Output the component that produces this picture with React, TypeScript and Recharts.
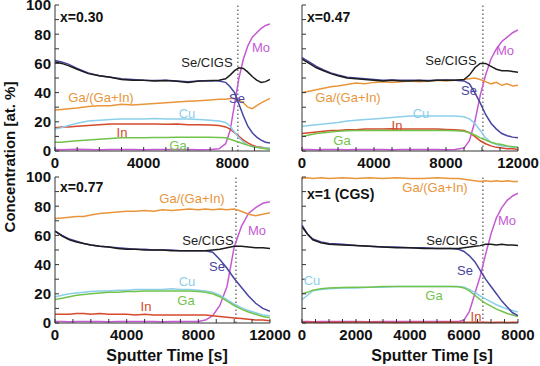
import React from 'react';
import { LineChart, Line, XAxis, YAxis, ReferenceLine } from 'recharts';

// x = 0.30 (sputter time in s, concentrations in at. %)
const t030 = [0, 300, 600, 1000, 1500, 2000, 2500, 3000, 3500, 4000, 4500, 5000, 5500, 6000, 6500, 7000, 7400, 7700, 7900, 8100, 8300, 8500, 8700, 8900, 9100, 9300, 9500, 9700];
const seCigs030 = [61, 60, 58.5, 56, 53, 51.5, 50.5, 49, 48.5, 48.5, 48, 48.3, 47.8, 47, 48, 48.2, 48.5, 49.5, 52, 55, 57, 56.5, 54, 51, 48.5, 47, 47.5, 49];
const se030 = [62, 61, 59.5, 56.5, 53.5, 51.5, 50.5, 49.5, 49, 48.5, 48.3, 48.5, 48, 47.5, 48, 48.3, 48, 47, 44, 40, 32, 24, 17, 12.5, 9.5, 7.5, 6, 5.5];
const ratio030 = [28, 28.5, 29, 29.5, 30.5, 31, 31, 32, 31.5, 32, 32.5, 33, 33.5, 34, 34.5, 35, 35.5, 35.5, 36, 36, 35, 33, 30, 29, 31, 33, 34.5, 36];
const cu030 = [15, 16, 17.5, 19, 20.5, 21, 21.5, 22, 22, 22, 22.2, 22, 22, 22, 21.5, 21, 20.5, 19.5, 17, 13, 9, 6, 4, 3, 2.5, 2, 2, 2];
const in030 = [16, 16.5, 16.5, 17, 17.5, 18, 18.5, 18.5, 18.5, 18.5, 18.5, 18.3, 18.5, 18, 18, 17.8, 17.5, 16.5, 15, 12.5, 10, 7.5, 5.5, 4, 3, 2.5, 2, 1.5];
const ga030 = [6, 6, 6.5, 7, 7.5, 8, 8.5, 9, 9, 9, 9.2, 9.3, 9.5, 9.5, 9.5, 9.5, 9.3, 9, 8, 7, 6, 5, 4, 3, 2.5, 2, 1.5, 1];
const mo030 = [1, 0.8, 1, 1.2, 1, 0.9, 1, 1.1, 1, 0.9, 1, 1, 1.1, 1, 0.9, 1, 1.5, 5, 14, 32, 50, 63, 72, 78, 81, 84, 86, 87];

// x = 0.47
const t047 = [0, 400, 800, 1200, 1600, 2000, 2500, 3000, 3500, 4000, 4500, 5000, 5500, 6000, 6500, 7000, 7500, 8000, 8500, 9000, 9300, 9600, 9900, 10200, 10500, 10800, 11100, 11400, 11700, 12000];
const seCigs047 = [63, 60, 57, 55, 53, 51.5, 50, 49.5, 49, 48.5, 48, 48.5, 48, 48, 48.3, 48, 48.5, 48.5, 48.5, 49, 52, 57, 60, 60, 58, 56, 55, 55, 54.5, 54];
const se047 = [64, 61, 58, 55.5, 53.5, 52, 50.5, 50, 49.5, 49, 48.5, 48.7, 48.5, 48.5, 48.5, 48.3, 48.5, 48.7, 48.5, 48, 46, 40, 33, 25, 19, 15, 12, 10.5, 9.5, 9];
const ratio047 = [40, 41, 42, 43, 44, 44.5, 45.5, 46.5, 46, 47, 47.5, 47, 47.5, 48, 47.5, 48, 48.5, 48, 48.5, 49, 49.5, 50, 49, 47.5, 46, 47, 45, 46, 44.5, 45];
const cu047 = [17, 17.5, 18, 18.5, 19, 19.5, 20.5, 21, 21.5, 22, 22.5, 23, 23.5, 24, 24, 24, 24, 24, 24, 23.5, 22, 19, 14, 9, 6, 4.5, 3.5, 3, 2.5, 2.5];
const in047 = [12, 12.5, 13, 13.5, 14, 14, 14.5, 14.5, 15, 15, 15, 15.2, 15, 15, 15, 15, 15, 14.8, 14.5, 14, 12.5, 10, 7, 5, 3.5, 2.5, 2, 1.5, 1.5, 1];
const ga047 = [10, 11, 12, 12.5, 13, 13.5, 13.8, 14, 14, 14, 14.2, 14, 14, 14, 14, 14, 14, 14, 13.8, 13.5, 12.5, 11, 9, 7.5, 6, 5, 4.5, 3.5, 3, 2.5];
const mo047 = [1, 1, 0.8, 1, 1.1, 1, 0.9, 1, 1, 1.1, 1, 0.9, 1, 1, 1.1, 1, 1, 0.9, 1, 2, 7, 20, 38, 52, 63, 70, 75, 78, 81, 83];

// x = 0.77
const t077 = [0, 400, 800, 1200, 1600, 2000, 2500, 3000, 3500, 4000, 4500, 5000, 5500, 6000, 6500, 7000, 7500, 8000, 8400, 8800, 9200, 9600, 10000, 10400, 10800, 11200, 11600, 12000];
const seCigs077 = [63, 59.5, 57, 55.5, 54.5, 53.5, 52.5, 52, 51, 50.5, 50.5, 50, 50, 50, 49.5, 49.5, 49.5, 49.5, 49.5, 50, 50.5, 51.5, 52.5, 52.5, 52, 51.5, 51.5, 51];
const se077 = [63, 60, 57.5, 56, 54.5, 53.5, 52.5, 52, 51.5, 51, 50.5, 50.5, 50, 50, 50, 49.5, 49.5, 49.5, 49.5, 48.5, 43.5, 37.5, 30.5, 24.5, 18.5, 13.5, 10, 8];
const ratio077 = [71.5, 72, 72.5, 73, 73, 74, 75, 75.5, 76, 76.5, 76.5, 77, 76.5, 77.5, 77, 77.5, 78, 77.5, 78, 77.5, 78, 77.5, 78, 76.5, 74.5, 73.5, 74.5, 75.5];
const cu077 = [18, 19, 20, 20.5, 21, 21.5, 22, 22, 22.5, 22.5, 23, 23, 23, 23, 23.5, 23, 23, 22.5, 22, 21, 19, 16, 13, 10.5, 8.5, 7, 5.5, 5];
const in077 = [6, 6, 6, 6.5, 6.5, 6, 6.5, 6, 6, 6, 5.5, 6, 5.5, 5.5, 5.5, 5.5, 5.5, 5.5, 5.5, 5, 4.5, 4, 3.5, 3, 2.5, 2, 2, 1.5];
const ga077 = [16, 17, 18, 19, 19.5, 20, 20.5, 21, 21, 21.5, 21.5, 22, 22, 22, 22, 22, 22, 21.5, 21, 20, 18, 15, 12, 9.5, 7.5, 6, 4.5, 3.5];
const mo077 = [1, 1, 0.9, 1, 1.1, 1, 1, 0.9, 1, 1, 1.1, 1, 1, 0.9, 1, 1, 1, 1, 2, 5, 12, 25, 52, 66, 75, 79, 82, 83];

// x = 1 (CGS)
const t100 = [0, 200, 400, 700, 1000, 1500, 2000, 2500, 3000, 3500, 4000, 4500, 5000, 5500, 5800, 6000, 6200, 6400, 6600, 6800, 7000, 7200, 7400, 7600, 7800, 8000];
const seCigs100 = [66, 61, 57, 55, 54, 53.5, 53, 52.5, 52, 51.5, 51.5, 51, 51, 51, 51, 51.5, 52, 52.5, 53, 54, 54, 53.5, 54, 53.5, 53.5, 53];
const se100 = [67, 61, 57.5, 55.5, 54.5, 54, 53, 52.5, 52, 52, 51.5, 51.5, 51, 51, 50.5, 49, 46, 42, 36, 30, 25, 20, 15, 11, 7, 5];
const ratio100 = [99, 99.5, 99, 99.5, 99, 99.5, 99, 99.5, 99, 99.5, 99, 99, 99.5, 99, 99, 98.5, 98, 97.5, 97, 97.5, 97, 97.5, 97, 97.5, 97, 97];
const cu100 = [16, 19, 22, 23, 23.5, 24, 24, 24.5, 24.5, 25, 25, 25, 25, 25, 25, 24.5, 23, 21, 18.5, 16.5, 14.5, 12.5, 11, 9.5, 8.5, 7.5];
const in100 = [0.6, 0.5, 0.5, 0.4, 0.5, 0.5, 0.6, 0.5, 0.5, 0.4, 0.5, 0.5, 0.5, 0.6, 0.5, 0.5, 0.5, 0.6, 0.5, 0.5, 0.4, 0.5, 0.5, 0.4, 0.5, 0.5];
const ga100 = [20, 21, 22.5, 23.5, 24, 24.3, 24.5, 24.5, 25, 25, 25, 25, 25, 25, 24.8, 24, 22, 19, 16, 13.5, 11.5, 9.5, 8, 6.5, 5.5, 4.5];
const mo100 = [1, 1, 0.9, 1, 1.1, 1, 1, 0.9, 1, 1, 1.1, 1, 1, 1, 1, 2, 8, 20, 32, 47, 61, 72, 79, 84, 87, 89];

const yTicks = [0, 10, 20, 30, 40, 50, 60, 70, 80, 90, 100];
const yLabels = [0, 20, 40, 60, 80, 100];

const FONT = '"Liberation Sans", Arial, sans-serif';

const SERIES = [
  { key: 'mo', color: '#c55ad3' },
  { key: 'inn', color: '#d5492c' },
  { key: 'cu', color: '#8ccfea' },
  { key: 'ga', color: '#72c34c' },
  { key: 'ratio', color: '#e9953a' },
  { key: 'se', color: '#4645a0' },
  { key: 'seCigs', color: '#1c1c1c' },
];

const rows = (t: number[], seCigs: number[], se: number[], ratio: number[], cu: number[], inn: number[], ga: number[], mo: number[]) =>
  t.map((v, i) => ({ t: v, seCigs: seCigs[i], se: se[i], ratio: ratio[i], cu: cu[i], inn: inn[i], ga: ga[i], mo: mo[i] }));

const range = (step: number, max: number) => {
  const out: number[] = [];
  for (let v = 0; v <= max; v += step) out.push(v);
  return out;
};

type Note = { text: string; x: number; y: number; color: string; bold?: boolean; start?: boolean };

interface PanelProps {
  data: any[];
  box: [number, number, number, number]; // left, top, right, bottom of plot area
  xMax: number;
  xTicks: number[];
  xLabels: number[];
  showY: boolean;
  cut: number;
}

const Panel = ({ data, box, xMax, xTicks, xLabels, showY, cut }: PanelProps) => {
  const [L, T, R, B] = box;
  const bottomTick = (p: any) =>
    xLabels.includes(p.payload.value) ? (
      <text x={p.x} y={p.y} dy="0.71em" textAnchor="middle" fontFamily={FONT} fontWeight="bold" fontSize={15} fill="#111">
        {p.payload.value}
      </text>
    ) : (
      <g />
    );
  const leftTick = (p: any) =>
    showY && yLabels.includes(p.payload.value) ? (
      <text x={p.x} y={p.y} dy="0.36em" textAnchor="end" fontFamily={FONT} fontWeight="bold" fontSize={15} fill="#111">
        {p.payload.value}
      </text>
    ) : (
      <g />
    );
  return (
    <div style={{ position: 'absolute', left: L - 45, top: T - 12 }}>
      <LineChart width={R - L + 75} height={B - T + 37} data={data} margin={{ top: 12, right: 30, left: 0, bottom: 0 }}>
        <XAxis dataKey="t" type="number" domain={[0, xMax]} ticks={xTicks} interval={0} height={25} tickSize={-4} tickMargin={10} stroke="#333" tick={bottomTick} allowDataOverflow />
        <XAxis xAxisId="top" orientation="top" type="number" domain={[0, xMax]} ticks={xTicks} interval={0} height={0} tickSize={-4} stroke="#333" tick={() => <g />} />
        <YAxis type="number" domain={[0, 100]} ticks={yTicks} interval={0} width={45} tickSize={-4} tickMargin={8} stroke="#333" tick={leftTick} />
        <YAxis yAxisId="right" orientation="right" type="number" domain={[0, 100]} ticks={yTicks} interval={0} width={0} tickSize={-4} stroke="#333" tick={() => <g />} />
        <ReferenceLine x={cut} stroke="#555" strokeDasharray="1.5 2.5" strokeWidth={1.2} />
        {SERIES.map((s) => (
          <Line key={s.key} dataKey={s.key} type="linear" stroke={s.color} strokeWidth={1.5} dot={false} isAnimationActive={false} />
        ))}
      </LineChart>
    </div>
  );
};

const C = Object.fromEntries(SERIES.map((s) => [s.key, s.color]));

const notes: Note[] = [
  { text: 'x=0.30', x: 60, y: 17, color: '#111', bold: true, start: true },
  { text: 'Se/CIGS', x: 207, y: 62, color: C.seCigs },
  { text: 'Se', x: 237, y: 98, color: C.se },
  { text: 'Ga/(Ga+In)', x: 101, y: 97, color: C.ratio },
  { text: 'Cu', x: 187, y: 113, color: C.cu },
  { text: 'In', x: 122, y: 132, color: C.inn },
  { text: 'Ga', x: 178, y: 145, color: C.ga },
  { text: 'Mo', x: 261, y: 47, color: C.mo },

  { text: 'x=0.47', x: 307, y: 17, color: '#111', bold: true, start: true },
  { text: 'Se/CIGS', x: 451, y: 60, color: C.seCigs },
  { text: 'Mo', x: 505, y: 50, color: C.mo },
  { text: 'Se', x: 469, y: 90, color: C.se },
  { text: 'Ga/(Ga+In)', x: 348, y: 97, color: C.ratio },
  { text: 'Cu', x: 421, y: 113, color: C.cu },
  { text: 'In', x: 397, y: 125, color: C.inn },
  { text: 'Ga', x: 342, y: 140, color: C.ga },

  { text: 'x=0.77', x: 60, y: 187, color: '#111', bold: true, start: true },
  { text: 'Ga/(Ga+In)', x: 192, y: 198, color: C.ratio },
  { text: 'Se/CIGS', x: 208, y: 240, color: C.seCigs },
  { text: 'Se', x: 217, y: 266, color: C.se },
  { text: 'Mo', x: 257, y: 230, color: C.mo },
  { text: 'Cu', x: 187, y: 281, color: C.cu },
  { text: 'Ga', x: 186, y: 300, color: C.ga },
  { text: 'In', x: 146, y: 306, color: C.inn },

  { text: 'x=1 (CGS)', x: 307, y: 194, color: '#111', bold: true, start: true },
  { text: 'Ga/(Ga+In)', x: 435, y: 187, color: C.ratio },
  { text: 'Mo', x: 507, y: 220, color: C.mo },
  { text: 'Se/CIGS', x: 452, y: 240, color: C.seCigs },
  { text: 'Se', x: 465, y: 270, color: C.se },
  { text: 'Cu', x: 312, y: 280, color: C.cu },
  { text: 'Ga', x: 434, y: 295, color: C.ga },
  { text: 'In', x: 476, y: 316, color: C.inn },
];

export default function App() {
  return (
    <div style={{ position: 'absolute', left: 0, top: 0, width: 540, height: 366, background: '#fff', overflow: 'hidden' }}>
      <Panel data={rows(t030, seCigs030, se030, ratio030, cu030, in030, ga030, mo030)} box={[55, 5, 270, 151]} xMax={9700} xTicks={range(1000, 9000)} xLabels={[0, 4000, 8000]} showY cut={8250} />
      <Panel data={rows(t047, seCigs047, se047, ratio047, cu047, in047, ga047, mo047)} box={[302, 5, 518, 151]} xMax={12000} xTicks={range(1000, 12000)} xLabels={[0, 4000, 8000, 12000]} showY={false} cut={10050} />
      <Panel data={rows(t077, seCigs077, se077, ratio077, cu077, in077, ga077, mo077)} box={[55, 177, 270, 323]} xMax={12000} xTicks={range(1000, 12000)} xLabels={[0, 4000, 8000, 12000]} showY cut={10100} />
      <Panel data={rows(t100, seCigs100, se100, ratio100, cu100, in100, ga100, mo100)} box={[302, 177, 518, 323]} xMax={8000} xTicks={range(500, 8000)} xLabels={[0, 2000, 4000, 6000, 8000]} showY={false} cut={6700} />
      <svg width={540} height={366} style={{ position: 'absolute', left: 0, top: 0, pointerEvents: 'none' }}>
        {notes.map((n, i) => (
          <text key={i} x={n.x} y={n.y} dy="0.36em" textAnchor={n.start ? 'start' : 'middle'} fontFamily={FONT} fontWeight={n.bold ? 'bold' : 'normal'} fontSize={n.bold ? 14 : 13} fill={n.color}>
            {n.text}
          </text>
        ))}
        <text x={10} y={157} dy="0.36em" transform="rotate(-90 10 157)" textAnchor="middle" fontFamily={FONT} fontWeight="bold" fontSize={15} fill="#111">
          Concentration [at. %]
        </text>
        <text x={167} y={355} dy="0.36em" textAnchor="middle" fontFamily={FONT} fontWeight="bold" fontSize={16} fill="#111">
          Sputter Time [s]
        </text>
        <text x={432} y={355} dy="0.36em" textAnchor="middle" fontFamily={FONT} fontWeight="bold" fontSize={16} fill="#111">
          Sputter Time [s]
        </text>
      </svg>
    </div>
  );
}
